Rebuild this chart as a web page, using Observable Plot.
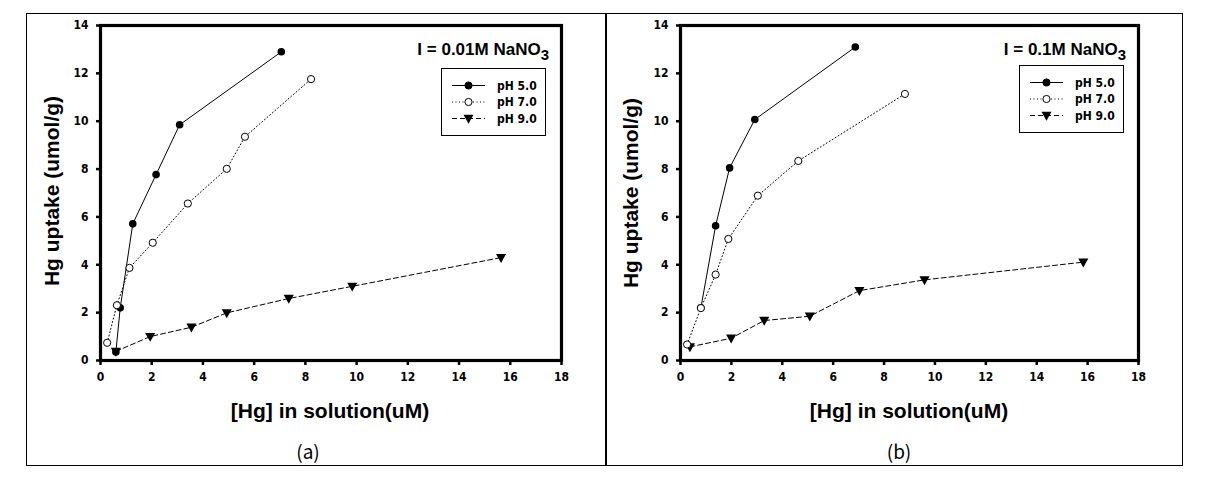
<!DOCTYPE html>
<html>
<head>
<meta charset="utf-8">
<script src="https://cdn.jsdelivr.net/npm/d3@7"></script>
<script src="https://cdn.jsdelivr.net/npm/@observablehq/plot@0.6"></script>
<style>
  html, body { margin: 0; padding: 0; background: #fff; }
  #root { position: relative; width: 1224px; height: 477px; overflow: hidden; background: #fff; }
  .abs { position: absolute; }
  .ylab { font-family: "Liberation Sans", Arial, sans-serif; font-weight: bold; font-size: 21px; white-space: nowrap; transform: translate(-50%, -50%) rotate(-90deg); }
  .xlab { font-family: "Liberation Sans", Arial, sans-serif; font-weight: bold; font-size: 21px; white-space: nowrap; transform: translate(-50%, -50%); }
  .plab { font-family: "Noto Sans CJK KR", "DejaVu Sans", sans-serif; font-size: 19px; white-space: nowrap; transform: translate(-50%, -50%); }
  .ann { font-family: "Liberation Sans", Arial, sans-serif; font-weight: bold; font-size: 17px; white-space: nowrap; transform: translate(-100%, -50%); }
  .ann sub { font-size: 15px; vertical-align: -5px; line-height: 0; }
  .leg { border: 1px solid #000; background: #fff; }
</style>
</head>
<body>
<div id="root"></div>
<script>
// ---------- data ----------
const xTicks = [0, 2, 4, 6, 8, 10, 12, 14, 16, 18];
const yTicks = [0, 2, 4, 6, 8, 10, 12, 14];
const seriesNames = ["pH 5.0", "pH 7.0", "pH 9.0"];

// Panel (a): I = 0.01M NaNO3
const a_pH5_x = [0.6, 0.77, 1.26, 2.17, 3.09, 7.06];
const a_pH5_y = [0.36, 2.2, 5.71, 7.77, 9.85, 12.9];
const a_pH7_x = [0.26, 0.64, 1.13, 2.04, 3.41, 4.93, 5.64, 8.22];
const a_pH7_y = [0.74, 2.31, 3.87, 4.92, 6.56, 8.01, 9.35, 11.76];
const a_pH9_x = [0.6, 1.94, 3.55, 4.93, 7.35, 9.83, 15.64];
const a_pH9_y = [0.38, 1.0, 1.39, 1.99, 2.59, 3.1, 4.3];

// Panel (b): I = 0.1M NaNO3
const b_pH5_x = [0.8, 1.38, 1.93, 2.92, 6.87];
const b_pH5_y = [2.2, 5.63, 8.05, 10.07, 13.1];
const b_pH7_x = [0.26, 0.8, 1.38, 1.88, 3.04, 4.63, 8.82];
const b_pH7_y = [0.67, 2.19, 3.59, 5.08, 6.89, 8.34, 11.14];
const b_pH9_x = [0.37, 1.99, 3.29, 5.08, 7.03, 9.59, 15.83];
const b_pH9_y = [0.57, 0.93, 1.67, 1.85, 2.92, 3.37, 4.11];

// ---------- helpers ----------
const zip = (xs, ys) => xs.map((x, i) => ({x, y: ys[i]}));
const triDown = {
  draw(ctx, size) {
    const r = Math.sqrt(size / Math.PI);
    ctx.moveTo(-r * 1.1, -r * 0.8);
    ctx.lineTo(r * 1.1, -r * 0.8);
    ctx.lineTo(0, r * 1.15);
    ctx.closePath();
  }
};
const narrow = '"Liberation Sans Narrow", "Arial Narrow", "DejaVu Sans Condensed", sans-serif';
const tickFont = {fontFamily: narrow, fontWeight: "bold", fontSize: 12};

function panel(s5, s7, s9, mLeft, mRight) {
  return Plot.plot({
    width: 579, height: 380,
    marginLeft: mLeft, marginRight: mRight, marginTop: 11, marginBottom: 34,
    style: {background: "transparent", overflow: "visible"},
    x: {domain: [0, 18]},
    y: {domain: [0, 14]},
    marks: [
      Plot.axisX({ticks: xTicks, tickSize: 5, strokeWidth: 2.5, tickPadding: 7, label: null, ...tickFont}),
      Plot.axisY({ticks: yTicks, tickSize: 4, strokeWidth: 2.5, tickPadding: 8, label: null, ...tickFont}),
      Plot.line(s9, {x: "x", y: "y", stroke: "#000", strokeWidth: 1, strokeDasharray: "5,3"}),
      Plot.line(s7, {x: "x", y: "y", stroke: "#000", strokeWidth: 1, strokeDasharray: "1,2.5"}),
      Plot.line(s5, {x: "x", y: "y", stroke: "#000", strokeWidth: 1}),
      Plot.dot(s9, {x: "x", y: "y", r: 4.6, symbol: triDown, fill: "#000", stroke: "none"}),
      Plot.dot(s5, {x: "x", y: "y", r: 3.8, fill: "#000", stroke: "none"}),
      Plot.dot(s7, {x: "x", y: "y", r: 3.6, fill: "#fff", stroke: "#000", strokeWidth: 1}),
      Plot.frame({stroke: "#000", strokeWidth: 3.2})
    ]
  });
}

function legend(left, top) {
  const w = 103, h = 66;
  const div = document.createElement("div");
  div.className = "abs leg";
  div.style.left = left + "px"; div.style.top = top + "px";
  div.style.width = w + "px"; div.style.height = h + "px";
  const ns = "http://www.w3.org/2000/svg";
  const svg = document.createElementNS(ns, "svg");
  svg.setAttribute("width", w); svg.setAttribute("height", h);
  const rows = [16.5, 33, 49.5];
  const dashes = [null, "1,2.5", "5,3"];
  rows.forEach((ry, i) => {
    const ln = document.createElementNS(ns, "line");
    ln.setAttribute("x1", 10); ln.setAttribute("x2", 43);
    ln.setAttribute("y1", ry); ln.setAttribute("y2", ry);
    ln.setAttribute("stroke", "#000"); ln.setAttribute("stroke-width", 1);
    if (dashes[i]) ln.setAttribute("stroke-dasharray", dashes[i]);
    svg.appendChild(ln);
    let m;
    if (i === 2) {
      m = document.createElementNS(ns, "path");
      m.setAttribute("d", `M${26.5 - 5},${ry - 3.7} L${26.5 + 5},${ry - 3.7} L26.5,${ry + 5.2} Z`);
      m.setAttribute("fill", "#000");
    } else {
      m = document.createElementNS(ns, "circle");
      m.setAttribute("cx", 26.5); m.setAttribute("cy", ry); m.setAttribute("r", 3.6);
      m.setAttribute("fill", i === 0 ? "#000" : "#fff");
      m.setAttribute("stroke", "#000"); m.setAttribute("stroke-width", 1);
    }
    svg.appendChild(m);
    const t = document.createElementNS(ns, "text");
    t.setAttribute("x", 55); t.setAttribute("y", ry + 4);
    t.setAttribute("font-family", narrow);
    t.setAttribute("font-weight", "bold"); t.setAttribute("font-size", 12);
    t.textContent = seriesNames[i];
    svg.appendChild(t);
  });
  div.appendChild(svg);
  return div;
}

function place(el, left, top) {
  el.classList.add("abs");
  el.style.left = left + "px"; el.style.top = top + "px";
  return el;
}
function label(cls, html, x, y) {
  const d = document.createElement("div");
  d.className = "abs " + cls;
  d.style.left = x + "px"; d.style.top = y + "px";
  d.innerHTML = html;
  return d;
}

const root = document.getElementById("root");

// outer frame and divider
const frame = document.createElement("div");
frame.className = "abs";
Object.assign(frame.style, {left: "26px", top: "13px", width: "1157px", height: "453px", border: "1.5px solid #000", boxSizing: "border-box"});
root.appendChild(frame);
const divider = document.createElement("div");
divider.className = "abs";
Object.assign(divider.style, {left: "605px", top: "13px", width: "1.5px", height: "453px", background: "#000"});
root.appendChild(divider);

// panels
root.appendChild(place(panel(zip(a_pH5_x, a_pH5_y), zip(a_pH7_x, a_pH7_y), zip(a_pH9_x, a_pH9_y), 73, 45), 27, 14));
root.appendChild(place(panel(zip(b_pH5_x, b_pH5_y), zip(b_pH7_x, b_pH7_y), zip(b_pH9_x, b_pH9_y), 74, 47), 606, 14));

// texts
root.appendChild(label("ylab", "Hg uptake (umol/g)", 52, 191));
root.appendChild(label("ylab", "Hg uptake (umol/g)", 631, 193));
root.appendChild(label("xlab", "[Hg] in solution(uM)", 330, 411));
root.appendChild(label("xlab", "[Hg] in solution(uM)", 909, 411));
root.appendChild(label("plab", "(a)", 308, 450));
root.appendChild(label("plab", "(b)", 899, 450));
root.appendChild(label("ann", "I = 0.01M NaNO<sub>3</sub>", 549, 50));
root.appendChild(label("ann", "I = 0.1M NaNO<sub>3</sub>", 1126, 50));

// legends
root.appendChild(legend(441, 68));
root.appendChild(legend(1019, 65));
</script>
</body>
</html>
